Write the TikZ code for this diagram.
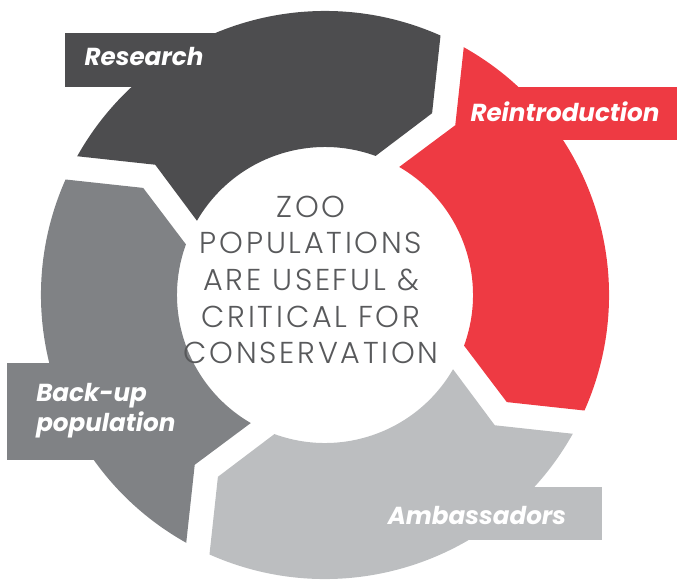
\documentclass[tikz,border=0pt]{standalone}
\usepackage{fontspec}
\usepackage{tikz}
\usetikzlibrary{calc,positioning}

\newfontfamily\labelfont{Poppins}
\newfontfamily\centrefont{Poppins Light}[LetterSpace=9]

\definecolor{researchcol}{HTML}{4D4D4F}
\definecolor{reintrocol}{HTML}{EE3A43}
\definecolor{ambasscol}{HTML}{BCBEC0}
\definecolor{backupcol}{HTML}{808285}
\definecolor{centrecol}{HTML}{58595B}

\tikzset{
  labeltext/.style={text=white,font=\labelfont\bfseries\itshape\fontsize{17.5}{21.5}\selectfont,inner sep=0pt},
  centretext/.style={text=centrecol,font=\centrefont\fontsize{21.5}{26.1}\selectfont,align=center,inner sep=0pt}
}

\begin{document}
\begin{tikzpicture}[x=0.025cm,y=0.025cm]
        \useasboundingbox (0,0) rectangle (677,-579);
        \coordinate (c) at (325,-295);

        % ring segments, each ends in a point and starts in a notch
        \foreach \ang/\col in {66/researchcol,-24/reintrocol,-114/ambasscol,156/backupcol}{
            \fill[\col] ($(c)+({\ang+84.75}:284)$) arc[start angle={\ang+84.75},end angle=\ang,radius=284]
                -- ($(c)+({\ang-6.5}:211)$) -- ($(c)+({\ang+4}:148)$)
                arc[start angle={\ang+4},end angle={\ang+83.9},radius=148]
                -- ($(c)+({\ang+76.5}:214)$) -- cycle;
        }

        % label boxes
        \fill[researchcol] (65,-33) rectangle (250,-87);
        \fill[reintrocol] (480,-87) rectangle (677,-140);
        \fill[backupcol] (7,-363) rectangle (150,-460);
        \fill[ambasscol] (400,-487) rectangle (602,-540);

        \node[labeltext] (research) at (144,-56) {Research};
        \node[labeltext] (reintro) at (565,-112) {Reintroduction};
        \node[labeltext,align=left,anchor=west] (backup) at (36,-411) {Back-up\\population};
        \node[labeltext] (ambass) at (477,-515) {Ambassadors};

        \node[centretext] (centre) at (311,-280) {ZOO\\POPULATIONS\\ARE USEFUL \&\\CRITICAL FOR\\CONSERVATION};
\end{tikzpicture}
\end{document}
